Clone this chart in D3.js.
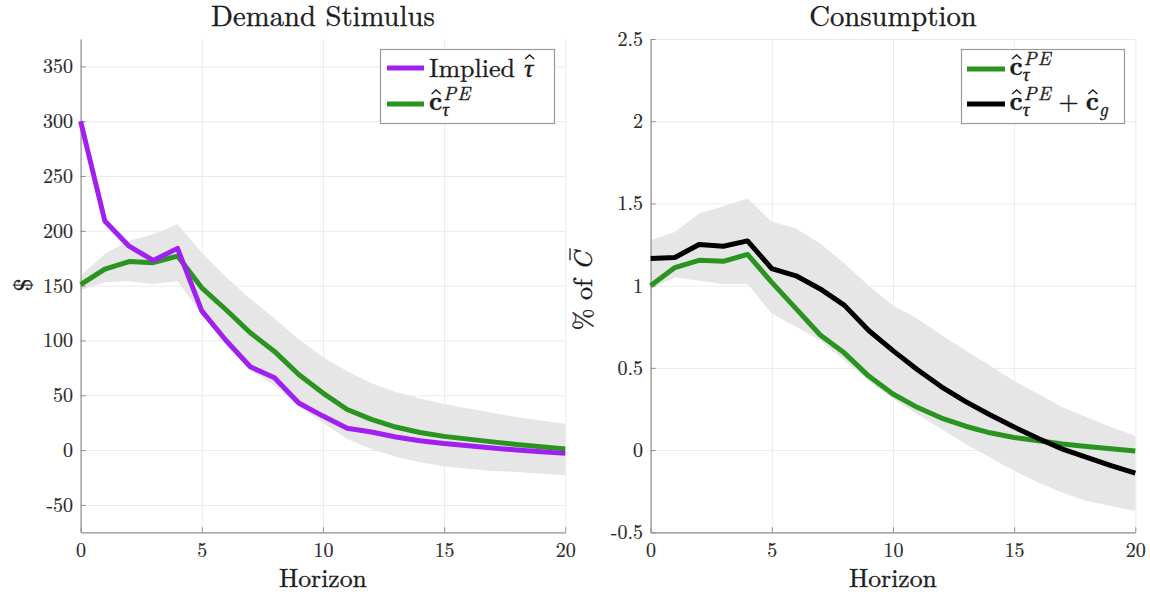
<!DOCTYPE html>
<html><head><meta charset="utf-8">
<script src="https://cdn.jsdelivr.net/npm/d3@7"></script>
<style>
body{margin:0;background:#fff}
svg{display:block}
</style>
</head><body>
<svg id="chart" width="1150" height="596"></svg>
<script>
// ---------------- data ----------------
const horizon = [0,1,2,3,4,5,6,7,8,9,10,11,12,13,14,15,16,17,18,19,20];
const xTicks = [0,5,10,15,20];

// Left panel: Demand Stimulus ($)
const leftImplied = [300,209,186,173,184,127,100,76,66,43,31,20,16.5,12,8.5,6,4,1.8,0,-1.5,-3];
const leftPE      = [151,165,172,171,177,148,128,107,90,69,52,37,28,21,16,12.5,10,7.5,5,3,1];
const leftUpper   = [159,179,191,197,206,180,158,138,120,101,85,72,61,53,47,42,38,34,30,27,24];
const leftLower   = [146,153,154,151.5,154,124,97,73,59,40,25,10,1,-6,-11,-15,-17,-19,-20,-21.5,-23];
const leftYTicks  = [-50,0,50,100,150,200,250,300,350];

// Right panel: Consumption (% of C-bar)
const rightPE    = [1.0,1.11,1.154,1.148,1.19,1.02,0.86,0.70,0.59,0.45,0.341,0.26,0.195,0.145,0.105,0.077,0.057,0.037,0.022,0.008,-0.005];
const rightTotal = [1.165,1.171,1.25,1.24,1.272,1.104,1.06,0.98,0.88,0.727,0.605,0.49,0.385,0.295,0.215,0.14,0.07,0.006,-0.045,-0.094,-0.14];
const rightUpper = [1.276,1.327,1.439,1.483,1.53,1.388,1.347,1.256,1.134,1.0,0.88,0.80,0.70,0.605,0.514,0.42,0.341,0.26,0.2,0.14,0.087];
const rightLower = [0.98,1.05,1.03,1.01,1.01,0.83,0.75,0.667,0.545,0.42,0.31,0.22,0.128,0.037,-0.045,-0.126,-0.198,-0.259,-0.309,-0.34,-0.37];
const rightYTicks = [-0.5,0,0.5,1,1.5,2,2.5];

const PURPLE = "#a020f0", GREEN = "#2a9420", BLACK = "#000000", BAND = "#e6e6e6";
const FONT = '"Latin Modern Roman"';
const INK = "#1c1c1c";

// ---------------- drawing ----------------
const svg = d3.select("#chart");
const TOP = 39, BOTTOM = 532.3;
const hy = s => String(s).replace("\u2212", "-");
function txt(sel, sw) {
  return sel.style("font-family", FONT).attr("fill", INK)
    .attr("stroke", INK).attr("stroke-width", sw == null ? 0.35 : sw);
}

function panel(o) {
  const x = d3.scaleLinear().domain([0,20]).range([o.x0, o.x1]);
  const y = d3.scaleLinear().domain(o.yDomain).range([BOTTOM, TOP]);
  const g = svg.append("g");
  const h = BOTTOM - TOP, w = o.x1 - o.x0;

  // grid
  const gx = g.append("g").attr("transform", `translate(0,${BOTTOM})`)
    .call(d3.axisBottom(x).tickValues(xTicks).tickSize(-h).tickFormat(""));
  const gy = g.append("g").attr("transform", `translate(${o.x0},0)`)
    .call(d3.axisLeft(y).tickValues(o.yTicks).tickSize(-w).tickFormat(""));
  [gx, gy].forEach(a => { a.select(".domain").remove(); a.selectAll("line").attr("stroke", "#ebebeb").attr("stroke-width", 1); });

  // band
  g.append("path")
    .datum(horizon)
    .attr("fill", BAND)
    .attr("d", d3.area().x(d => x(d)).y0((d,i) => y(o.lower[i])).y1((d,i) => y(o.upper[i])));

  // axes
  const ax = g.append("g").attr("transform", `translate(0,${BOTTOM})`)
    .call(d3.axisBottom(x).tickValues(xTicks).tickSizeInner(-5).tickSizeOuter(0).tickPadding(10.5).tickFormat(d => String(d)));
  const ay = g.append("g").attr("transform", `translate(${o.x0},0)`)
    .call(d3.axisLeft(y).tickValues(o.yTicks).tickSizeInner(-5).tickSizeOuter(0).tickPadding(7.5).tickFormat(d => hy(d)));
  [ax, ay].forEach(a => {
    a.attr("font-family", "Latin Modern Roman").attr("font-size", 20);
    a.select(".domain").attr("stroke", "#8f8f8f").attr("stroke-width", 1.2);
    a.selectAll("line").attr("stroke", "#8f8f8f");
    txt(a.selectAll("text"), 0.2).style("font-size", "20px").attr("fill", "#2a2a2a").attr("stroke", "#2a2a2a");
  });

  // series lines
  o.series.forEach(s => {
    g.append("path").datum(horizon)
      .attr("fill", "none").attr("stroke", s.color).attr("stroke-width", 5)
      .attr("stroke-linejoin", "round").attr("stroke-linecap", "butt")
      .attr("d", d3.line().x(d => x(d)).y((d,i) => y(s.values[i])));
  });

  // title + x label
  txt(g.append("text")).attr("x", (o.x0+o.x1)/2).attr("y", 26).attr("text-anchor", "middle")
    .style("font-size", "28.7px").text(o.title);
  txt(g.append("text")).attr("x", (o.x0+o.x1)/2).attr("y", 587).attr("text-anchor", "middle")
    .style("font-size", "25.7px").text("Horizon");
  return {g, x, y};
}

panel({x0: 80.6, x1: 565.3, yDomain: [-75, 375], yTicks: leftYTicks,
  lower: leftLower, upper: leftUpper, title: "Demand Stimulus",
  series: [{values: leftPE, color: GREEN}, {values: leftImplied, color: PURPLE}]});
panel({x0: 650.6, x1: 1135.3, yDomain: [-0.5, 2.5], yTicks: rightYTicks,
  lower: rightLower, upper: rightUpper, title: "Consumption",
  series: [{values: rightPE, color: GREEN}, {values: rightTotal, color: BLACK}]});

// y labels
txt(svg.append("text")).attr("transform", "translate(21,285) rotate(-90)")
  .attr("text-anchor", "middle").attr("dominant-baseline", "central").style("font-size", "26px").text("$");

const yl = svg.append("g").attr("transform", "translate(592,291) rotate(-90)");
const ylt = txt(yl.append("text")).attr("text-anchor", "middle").style("font-size", "26px");
ylt.append("tspan").text("% of ");
ylt.append("tspan").style("font-style", "italic").text("C");
{
  const bb = ylt.node().getBBox();
  const cx1 = bb.x + bb.width - 1, cx0 = cx1 - 14;
  yl.append("line").attr("x1", cx0 + 3).attr("x2", cx1 + 1).attr("y1", -22).attr("y2", -22)
    .attr("stroke", INK).attr("stroke-width", 1.3);
}

// ---------------- legends ----------------
function hat(g, cx, yTop) {
  g.append("path").attr("d", `M${cx-4.5},${yTop+4} L${cx},${yTop} L${cx+4.5},${yTop+4}`)
    .attr("fill", "none").attr("stroke", INK).attr("stroke-width", 1.4);
}
// bold c-hat with superscript and subscript, as one text element
function cHat(g, x, base, sub, sup) {
  const t = txt(g.append("text")).attr("x", x).attr("y", base).style("font-size", "26px");
  const c = t.append("tspan").style("font-weight", "bold").text("c");
  const cw = c.node().getComputedTextLength();
  hat(g, x + cw/2 + 0.5, base - 20);
  let end = x + cw;
  if (sup) {
    const s = t.append("tspan").attr("x", x + cw + 1).attr("dy", -10).style("font-size", "19px").style("font-style", "italic")
      .style("letter-spacing", "1px").text(sup);
    end = Math.max(end, x + cw + 1 + s.node().getComputedTextLength());
  }
  if (sub) {
    const s = t.append("tspan").attr("x", x + cw).attr("dy", sup ? 16 : 6).style("font-size", "19px").style("font-style", "italic").text(sub);
    end = Math.max(end, x + cw + s.node().getComputedTextLength());
  }
  return end;
}

const legL = svg.append("g");
legL.append("rect").attr("x", 380.5).attr("y", 49.5).attr("width", 174).attr("height", 74)
  .attr("fill", "#fff").attr("stroke", "#9a9a9a").attr("stroke-width", 1.2);
legL.append("line").attr("x1", 387).attr("x2", 424).attr("y1", 68).attr("y2", 68).attr("stroke", PURPLE).attr("stroke-width", 5);
legL.append("line").attr("x1", 387).attr("x2", 424).attr("y1", 104).attr("y2", 104).attr("stroke", GREEN).attr("stroke-width", 5);
{
  const t = txt(legL.append("text")).attr("x", 429).attr("y", 77).style("font-size", "26px").text("Implied");
  const tw = t.node().getComputedTextLength();
  const tx = 429 + tw + 9;
  const tau = txt(legL.append("text")).attr("x", tx).attr("y", 77).style("font-size", "26px").style("font-style", "italic").text("τ");
  const w = tau.node().getComputedTextLength();
  hat(legL, tx + w/2 + 1, 55);
  cHat(legL, 429, 110, "τ", "PE");
}

const legR = svg.append("g");
legR.append("rect").attr("x", 961.5).attr("y", 49.5).attr("width", 163).attr("height", 74)
  .attr("fill", "#fff").attr("stroke", "#9a9a9a").attr("stroke-width", 1.2);
legR.append("line").attr("x1", 967).attr("x2", 1005).attr("y1", 69).attr("y2", 69).attr("stroke", GREEN).attr("stroke-width", 5);
legR.append("line").attr("x1", 967).attr("x2", 1005).attr("y1", 104).attr("y2", 104).attr("stroke", BLACK).attr("stroke-width", 5);
cHat(legR, 1009.5, 75, "τ", "PE");
{
  const e = cHat(legR, 1009.5, 110, "τ", "PE");
  const p = txt(legR.append("text")).attr("x", e + 7).attr("y", 110).style("font-size", "26px").text("+");
  const pw = p.node().getComputedTextLength();
  cHat(legR, e + 7 + pw + 7, 110, "g", null);
}
</script>
</body></html>
